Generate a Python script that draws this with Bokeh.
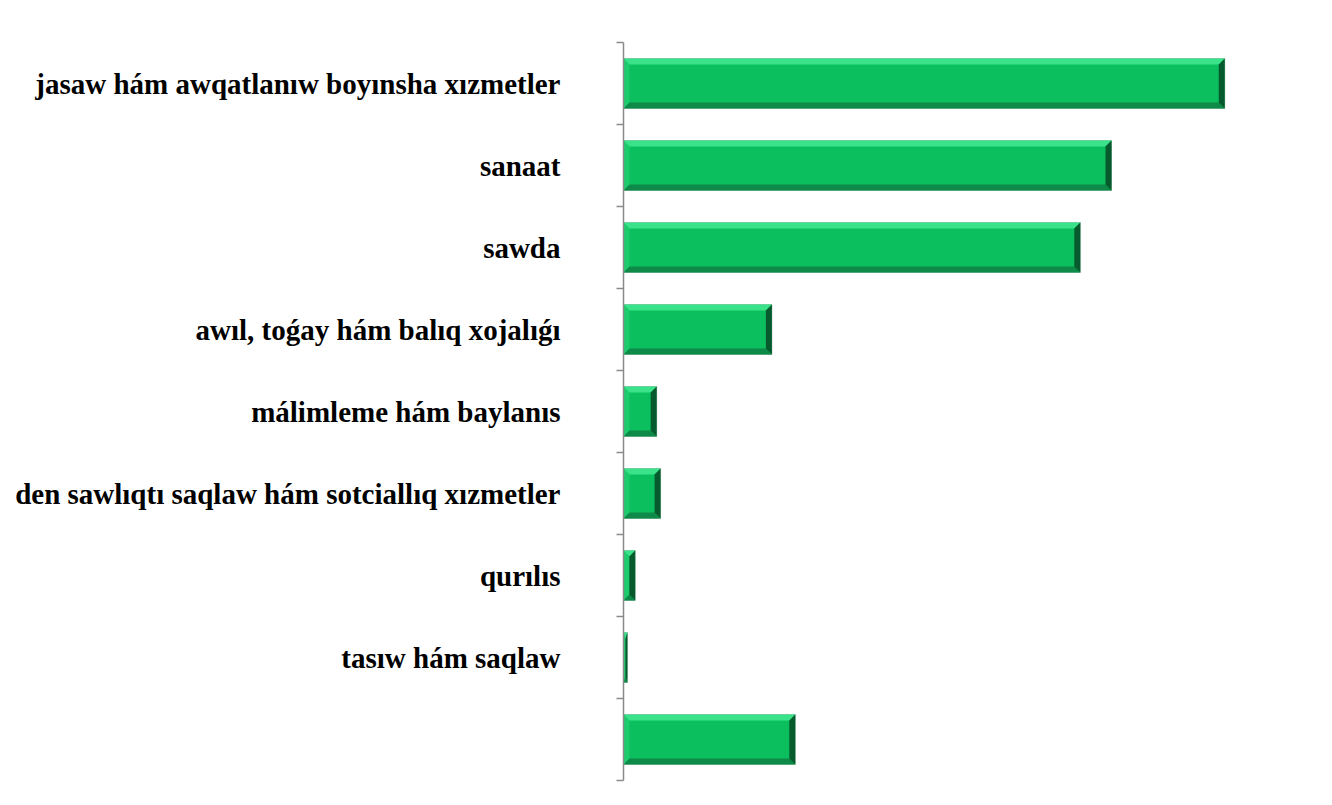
from bokeh.plotting import figure
from bokeh.models import Range1d, FixedTicker, ColumnDataSource, LinearAxis
from bokeh.embed import file_html
from bokeh.resources import INLINE

# ---- data -----------------------------------------------------------------
categories = [
    "jasaw hám awqatlanıw boyınsha xızmetler",
    "sanaat",
    "sawda",
    "awıl, toǵay hám balıq xojalıǵı",
    "málimleme hám baylanıs",
    "den sawlıqtı saqlaw hám sotciallıq xızmetler",
    "qurılıs",
    "tasıw hám saqlaw",
    "",
]
values = [30.8, 25.0, 23.4, 7.6, 1.7, 1.9, 0.6, 0.2, 8.8]

# ---- geometry -------------------------------------------------------------
n = len(categories)
ys = list(range(n))
W, H = 1324, 797
MB_L, MB_R, MB_T, MB_B = 623, 8, 42, 17
frame_w = W - MB_L - MB_R
frame_h = H - MB_T - MB_B
X_END = 35.5
px_x = frame_w / X_END
px_y = frame_h / n

half = 0.305
bev_x = 6 / px_x
bev_y = 6 / px_y

p = figure(width=W, height=H,
           x_range=Range1d(0, X_END), y_range=Range1d(n - 0.5, -0.5),
           min_border_left=MB_L, min_border_right=MB_R,
           min_border_top=MB_T, min_border_bottom=MB_B,
           y_axis_location=None,
           toolbar_location=None, output_backend="svg")
p.outline_line_color = None
p.xgrid.visible = False
p.ygrid.visible = False
p.xaxis.visible = False
p.background_fill_color = "white"
p.border_fill_color = "white"

# axis with tick marks between categories
bounds = [i - 0.5 for i in range(n + 1)]
tick_axis = LinearAxis(ticker=FixedTicker(ticks=bounds),
                       major_label_overrides={t: "" for t in bounds},
                       major_label_text_font_size="1px",
                       major_label_standoff=0,
                       axis_line_color="#8a8a8a", axis_line_width=1.5,
                       major_tick_line_color="#8a8a8a", major_tick_line_width=1.5,
                       major_tick_out=7, major_tick_in=0,
                       minor_tick_line_color=None)
p.add_layout(tick_axis, "left")

# axis carrying the category names
label_axis = LinearAxis(ticker=FixedTicker(ticks=ys),
                        major_label_overrides={i: c for i, c in zip(ys, categories)},
                        major_label_text_font="Liberation Serif",
                        major_label_text_font_style="bold",
                        major_label_text_font_size="29px",
                        major_label_text_color="black",
                        major_label_standoff=50,
                        axis_line_color=None,
                        major_tick_line_color=None,
                        minor_tick_line_color=None)
p.add_layout(label_axis, "left")

src = ColumnDataSource(dict(y=ys, v=values))
p.hbar(y="y", left=0, right="v", height=2 * half, source=src,
       fill_color="#0bbf5e", line_color="#9fb5a8", line_width=1, line_alpha=0.7)

top_xs, top_ys, bot_xs, bot_ys = [], [], [], []
lef_xs, lef_ys, rig_xs, rig_ys = [], [], [], []
for i, v in zip(ys, values):
    dx = min(bev_x, v / 2)
    y0, y1 = i - half, i + half
    top_xs.append([0, v, v - dx, dx]); top_ys.append([y0, y0, y0 + bev_y, y0 + bev_y])
    bot_xs.append([0, v, v - dx, dx]); bot_ys.append([y1, y1, y1 - bev_y, y1 - bev_y])
    lef_xs.append([0, dx, dx, 0]); lef_ys.append([y0, y0 + bev_y, y1 - bev_y, y1])
    rig_xs.append([v, v - dx, v - dx, v]); rig_ys.append([y0, y0 + bev_y, y1 - bev_y, y1])

p.patches(lef_xs, lef_ys, fill_color="#1ccb6c", line_color=None)
p.patches(top_xs, top_ys, fill_color="#3ae38a", line_color=None)
p.patches(bot_xs, bot_ys, fill_color="#0e8a48", line_color=None)
p.patches(rig_xs, rig_ys, fill_color="#075a2d", line_color=None)

open("out.html", "w").write(file_html(p, INLINE))
